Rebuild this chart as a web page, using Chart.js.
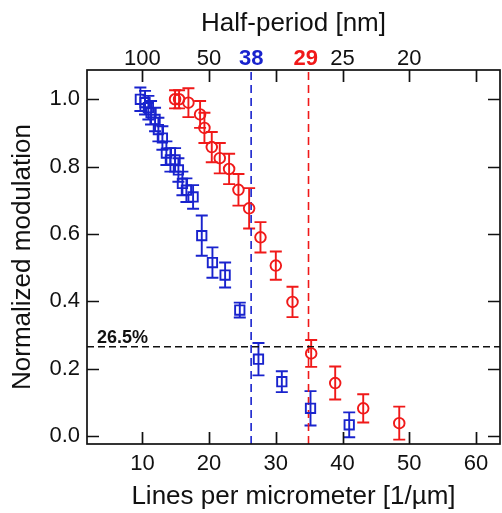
<!DOCTYPE html>
<html lang="en">
<head>
    <meta charset="UTF-8">
    <title>Normalized modulation vs lines per micrometer</title>
    <style>
        html, body { margin: 0; padding: 0; background: #fff; }
        #wrap { width: 502px; height: 513px; }
    </style>
    <script src="https://cdn.jsdelivr.net/npm/chart.js"></script>
</head>
<body>
    <div id="wrap"><canvas id="chart" width="502" height="513"></canvas></div>
    <script>
        // Blue squares
        const blueX = [9.7, 10.4, 10.9, 11.3, 11.9, 12.4, 13.0, 13.6, 14.2, 14.9, 15.4, 16.0, 16.6, 17.6, 18.9, 20.5, 22.4, 24.6, 27.4, 30.9, 35.2, 41.0];
        const blueY = [1.0, 0.99, 0.975, 0.96, 0.94, 0.91, 0.885, 0.84, 0.82, 0.82, 0.79, 0.75, 0.73, 0.71, 0.595, 0.515, 0.478, 0.374, 0.228, 0.161, 0.082, 0.033];
        const blueErr = [0.035, 0.035, 0.035, 0.035, 0.035, 0.035, 0.035, 0.035, 0.035, 0.035, 0.035, 0.035, 0.035, 0.035, 0.06, 0.045, 0.037, 0.022, 0.048, 0.031, 0.051, 0.037];

        // Red circles
        const redX = [14.9, 15.5, 16.9, 18.65, 19.3, 20.4, 21.6, 23.0, 24.4, 26.0, 27.7, 30.0, 32.5, 35.3, 38.9, 43.1, 48.5];
        const redY = [1.0, 1.0, 0.99, 0.955, 0.915, 0.858, 0.825, 0.793, 0.731, 0.676, 0.59, 0.506, 0.398, 0.245, 0.157, 0.082, 0.038];
        const redErr = [0.027, 0.027, 0.043, 0.04, 0.045, 0.045, 0.045, 0.045, 0.047, 0.06, 0.045, 0.042, 0.045, 0.04, 0.049, 0.042, 0.049];

        // Axes
        const xTicks = [10, 20, 30, 40, 50, 60];
        const yTicks = [0.0, 0.2, 0.4, 0.6, 0.8, 1.0];
        const halfPeriods = [100, 50, 38, 29, 25, 20];
        const xMin = 1.7, xMax = 63.6, yMin = -0.024, yMax = 1.087;

        // Cut-off markers
        const threshold = 0.265;
        const blueCut = 26.3;
        const redCut = 34.9;

        const BLUE = 'rgb(25, 35, 205)';
        const RED = 'rgb(240, 25, 25)';
        const FONT = "Arial, 'Liberation Sans', sans-serif";

        function pts(xs, ys) {
            return xs.map((x, i) => ({ x: x, y: ys[i] }));
        }

        function fixSize(prop, size) {
            return s => {
                s[prop] = size;
                s.paddingLeft = 0; s.paddingRight = 0;
                s.paddingTop = 0; s.paddingBottom = 0;
            };
        }

        // error bars, frame, inward ticks and the 26.5% label
        const decorations = {
            id: 'decorations',
            beforeDatasetsDraw(chart) {
                const ctx = chart.ctx;
                const xs = chart.scales.x, ys = chart.scales.y;
                const a = chart.chartArea;
                ctx.save();
                ctx.beginPath();
                ctx.rect(a.left, a.top, a.right - a.left, a.bottom - a.top);
                ctx.clip();
                [[blueX, blueY, blueErr, BLUE], [redX, redY, redErr, RED]].forEach(([X, Y, E, c]) => {
                    ctx.strokeStyle = c;
                    ctx.lineWidth = 1.9;
                    X.forEach((x, i) => {
                        const px = xs.getPixelForValue(x);
                        const top = ys.getPixelForValue(Y[i] + E[i]);
                        const bot = ys.getPixelForValue(Y[i] - E[i]);
                        ctx.beginPath();
                        ctx.moveTo(px, top); ctx.lineTo(px, bot);
                        ctx.moveTo(px - 6, top); ctx.lineTo(px + 6, top);
                        ctx.moveTo(px - 6, bot); ctx.lineTo(px + 6, bot);
                        ctx.stroke();
                    });
                });
                ctx.restore();
            },
            afterDraw(chart) {
                const ctx = chart.ctx;
                const xs = chart.scales.x, ys = chart.scales.y;
                const a = chart.chartArea;
                const len = 12;
                ctx.save();
                ctx.strokeStyle = '#111';
                ctx.lineWidth = 1.7;
                ctx.strokeRect(a.left, a.top, a.right - a.left, a.bottom - a.top);
                ctx.beginPath();
                xTicks.forEach(v => {
                    const px = Math.round(xs.getPixelForValue(v)) + 0.5;
                    ctx.moveTo(px, a.bottom); ctx.lineTo(px, a.bottom - len);
                    ctx.moveTo(px, a.top); ctx.lineTo(px, a.top + len);
                });
                yTicks.forEach(v => {
                    const py = Math.round(ys.getPixelForValue(v)) + 0.5;
                    ctx.moveTo(a.left, py); ctx.lineTo(a.left + len, py);
                    ctx.moveTo(a.right, py); ctx.lineTo(a.right - len, py);
                });
                ctx.stroke();

                ctx.fillStyle = '#111';
                ctx.font = 'bold 18px ' + FONT;
                ctx.textBaseline = 'alphabetic';
                ctx.fillText('26.5%', a.left + 10, ys.getPixelForValue(threshold) - 4);
                ctx.restore();
            }
        };

        new Chart(document.getElementById('chart'), {
            type: 'scatter',
            data: {
                datasets: [
                    {
                        data: pts(blueX, blueY),
                        pointStyle: 'rect',
                        pointRadius: 6.6,
                        pointHoverRadius: 6.6,
                        borderColor: BLUE,
                        backgroundColor: 'rgba(0,0,0,0)',
                        pointBorderWidth: 1.9
                    },
                    {
                        data: pts(redX, redY),
                        pointStyle: 'circle',
                        pointRadius: 5.3,
                        pointHoverRadius: 5.3,
                        borderColor: RED,
                        backgroundColor: 'rgba(0,0,0,0)',
                        pointBorderWidth: 1.9
                    },
                    {
                        type: 'line',
                        data: [{ x: xMin, y: threshold }, { x: xMax, y: threshold }],
                        borderColor: '#111',
                        borderWidth: 1.6,
                        borderDash: [7, 4],
                        pointRadius: 0
                    },
                    {
                        type: 'line',
                        data: [{ x: blueCut, y: yMin }, { x: blueCut, y: yMax }],
                        borderColor: BLUE,
                        borderWidth: 1.6,
                        borderDash: [8, 5],
                        pointRadius: 0
                    },
                    {
                        type: 'line',
                        data: [{ x: redCut, y: yMin }, { x: redCut, y: yMax }],
                        borderColor: RED,
                        borderWidth: 1.6,
                        borderDash: [8, 5],
                        pointRadius: 0
                    }
                ]
            },
            options: {
                responsive: false,
                animation: false,
                events: [],
                layout: { autoPadding: false, padding: { left: 0, right: 2, top: 0, bottom: 0 } },
                plugins: { legend: { display: false }, tooltip: { enabled: false } },
                scales: {
                    x: {
                        type: 'linear',
                        position: 'bottom',
                        min: xMin,
                        max: xMax,
                        afterBuildTicks: s => { s.ticks = xTicks.map(v => ({ value: v })); },
                        afterFit: fixSize('height', 69),
                        grid: { display: false, drawTicks: false },
                        border: { display: false },
                        ticks: { color: '#111', font: { family: FONT, size: 22 }, padding: 7, maxRotation: 0, autoSkip: false },
                        title: {
                            display: true,
                            text: 'Lines per micrometer [1/\u00b5m]',
                            color: '#111',
                            font: { family: FONT, size: 26 },
                            padding: { top: 0, bottom: 1 }
                        }
                    },
                    x2: {
                        type: 'linear',
                        position: 'top',
                        min: xMin,
                        max: xMax,
                        afterBuildTicks: s => { s.ticks = halfPeriods.map(h => ({ value: 1000 / h })); },
                        afterFit: fixSize('height', 70),
                        grid: { display: false, drawTicks: false },
                        border: { display: false },
                        ticks: {
                            autoSkip: false,
                            maxRotation: 0,
                            padding: -2,
                            callback: (v, i) => String(halfPeriods[i]),
                            color: c => c.index === 2 ? BLUE : (c.index === 3 ? RED : '#111'),
                            font: c => ({ family: FONT, size: 22, weight: (c.index === 2 || c.index === 3) ? 'bold' : 'normal' })
                        },
                        title: {
                            display: true,
                            text: 'Half-period [nm]',
                            color: '#111',
                            font: { family: FONT, size: 26 },
                            padding: { top: 8, bottom: 0 }
                        }
                    },
                    y: {
                        type: 'linear',
                        min: yMin,
                        max: yMax,
                        afterBuildTicks: s => { s.ticks = yTicks.map(v => ({ value: v })); },
                        afterFit: fixSize('width', 87),
                        grid: { display: false, drawTicks: false },
                        border: { display: false },
                        ticks: {
                            color: '#111',
                            font: { family: FONT, size: 22 },
                            padding: 7,
                            callback: v => v.toFixed(1)
                        },
                        title: {
                            display: true,
                            text: 'Normalized modulation',
                            color: '#111',
                            font: { family: FONT, size: 26 },
                            padding: { top: 7, bottom: 0 }
                        }
                    }
                }
            },
            plugins: [decorations]
        });
    </script>
</body>
</html>
